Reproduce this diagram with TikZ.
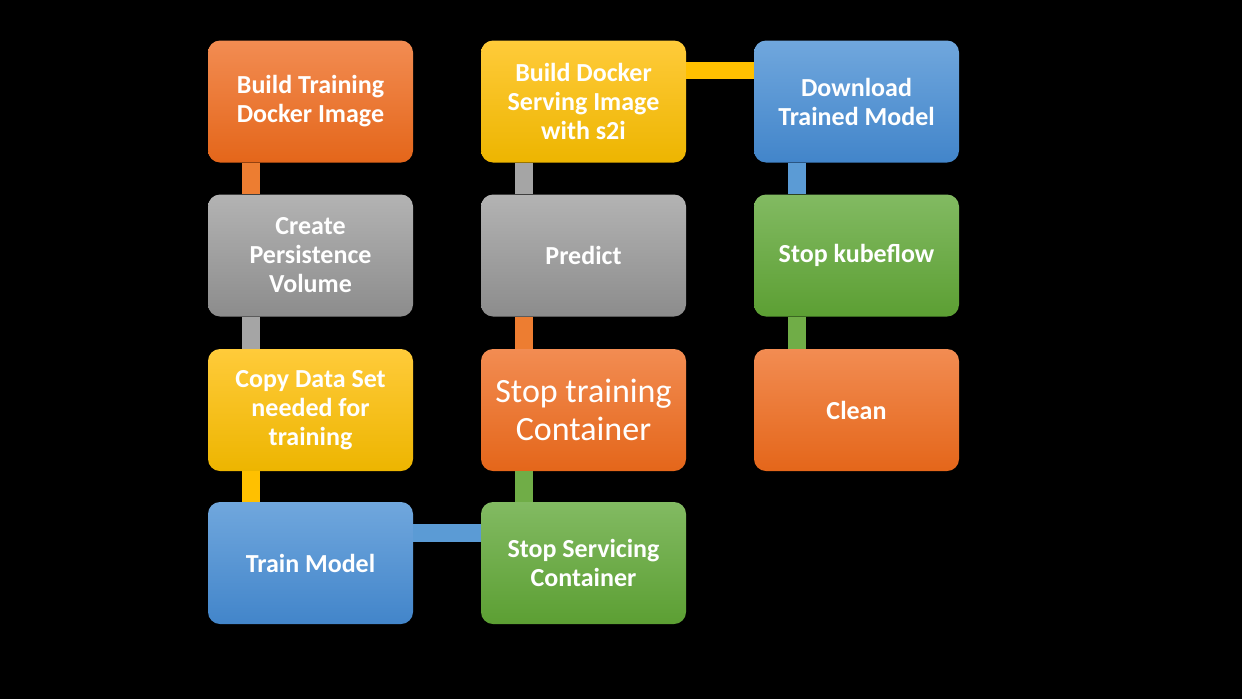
\documentclass[tikz,border=0pt]{standalone}
\usepackage{fontspec}
\setmainfont{Carlito}
\definecolor{orT}{HTML}{F28C52}\definecolor{orB}{HTML}{E4661A}\definecolor{orC}{HTML}{ED7D31}
\definecolor{grT}{HTML}{B3B3B3}\definecolor{grB}{HTML}{8C8C8C}\definecolor{grC}{HTML}{A5A5A5}
\definecolor{yeT}{HTML}{FFCB3A}\definecolor{yeB}{HTML}{EDB500}\definecolor{yeC}{HTML}{FFC000}
\definecolor{blT}{HTML}{70A7DD}\definecolor{blB}{HTML}{4285CA}\definecolor{blC}{HTML}{5B9BD5}
\definecolor{gnT}{HTML}{82BA62}\definecolor{gnB}{HTML}{5C9F33}\definecolor{gnC}{HTML}{70AD47}
\tikzset{
  box/.style={rectangle, rounded corners=12pt, minimum width=205pt, minimum height=122pt,
    inner sep=0pt, text=white, align=center, font=\fontsize{26}{29}\selectfont\bfseries},
  orbox/.style={box, top color=orT, bottom color=orB},
  grbox/.style={box, top color=grT, bottom color=grB},
  yebox/.style={box, top color=yeT, bottom color=yeB},
  blbox/.style={box, top color=blT, bottom color=blB},
  gnbox/.style={box, top color=gnT, bottom color=gnB},
  link/.style={line width=18pt},
}
\begin{document}
\begin{tikzpicture}[x=1pt,y=-1pt]
\fill[black] (0,0) rectangle (1242,699);
\useasboundingbox (0,0) rectangle (1242,699);
% nodes
\node[orbox] (n1) at (310.5,101.5) {Build Training\\Docker Image};
\node[grbox] (n2) at (310.5,255.5) {Create\\Persistence\\Volume};
\node[yebox] (n3) at (310.5,410) {Copy Data Set\\needed for\\training};
\node[blbox] (n4) at (310.5,563) {Train Model};
\node[gnbox] (n5) at (583.5,563) {Stop Servicing\\Container};
\node[orbox, font=\fontsize{34}{38}\selectfont] (n6) at (583.5,410) {Stop training\\Container};
\node[grbox] (n7) at (583.5,255.5) {Predict};
\node[yebox] (n8) at (583.5,101.5) {Build Docker\\Serving Image\\with s2i};
\node[blbox] (n9) at (856.5,101.5) {Download\\Trained Model};
\node[gnbox] (n10) at (856.5,255.5) {Stop kubeflow};
\node[orbox] (n11) at (856.5,410) {Clean};
% connectors
\draw[link, orC] ([xshift=-60pt]n1.south) -- ([xshift=-60pt]n2.north);
\draw[link, grC] ([xshift=-60pt]n2.south) -- ([xshift=-60pt]n3.north);
\draw[link, yeC] ([xshift=-60pt]n3.south) -- ([xshift=-60pt]n4.north);
\draw[link, blC] ([yshift=30.5pt]n4.east) -- ([yshift=30.5pt]n5.west);
\draw[link, gnC] ([xshift=-60pt]n5.north) -- ([xshift=-60pt]n6.south);
\draw[link, orC] ([xshift=-60pt]n6.north) -- ([xshift=-60pt]n7.south);
\draw[link, grC] ([xshift=-60pt]n7.north) -- ([xshift=-60pt]n8.south);
\draw[link, yeC, line width=17pt] ([yshift=31pt]n8.east) -- ([yshift=31pt]n9.west);
\draw[link, blC] ([xshift=-60pt]n9.south) -- ([xshift=-60pt]n10.north);
\draw[link, gnC] ([xshift=-60pt]n10.south) -- ([xshift=-60pt]n11.north);
\end{tikzpicture}
\end{document}
